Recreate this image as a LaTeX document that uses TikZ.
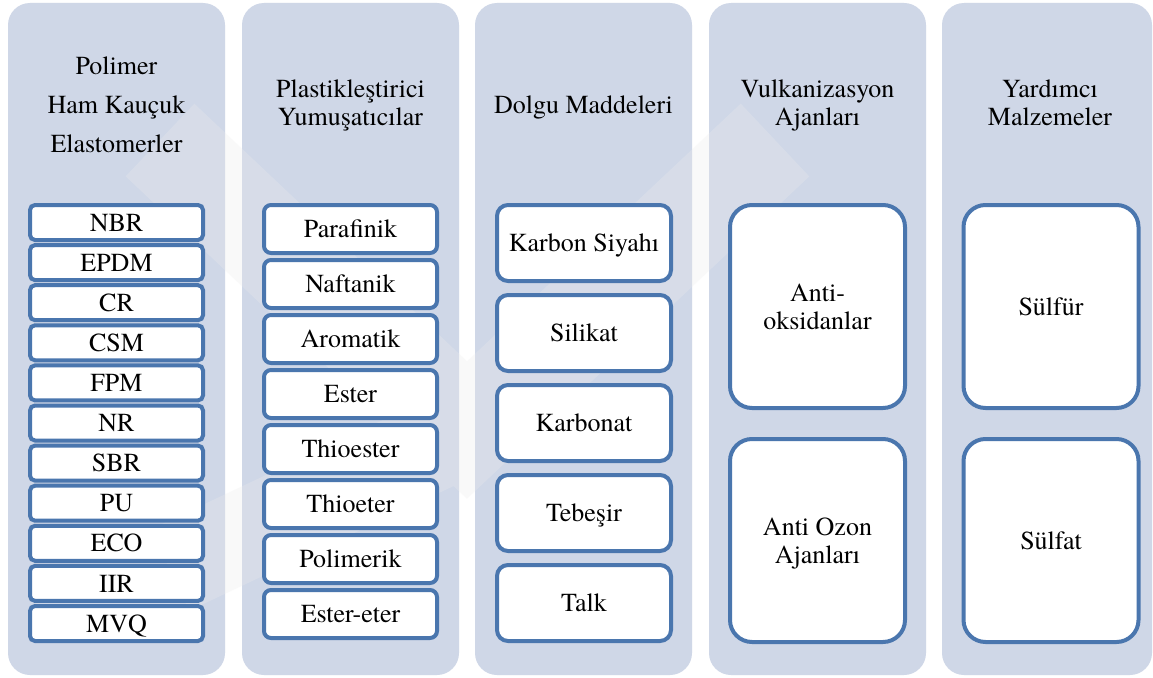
\documentclass[tikz,border=0pt]{standalone}
\usepackage{fontspec}
\setmainfont{texgyretermes}[Extension=.otf, UprightFont=*-regular]
\definecolor{panelfill}{RGB}{207,215,231}
\definecolor{boxline}{RGB}{74,118,174}
\definecolor{markgray}{RGB}{236,236,236}

\begin{document}
\begin{tikzpicture}[x=1pt,y=-1pt,
  panel/.style={fill=panelfill, draw=none, rounded corners=22pt},
  item/.style={draw=boxline, line width=4pt, fill=white, inner sep=0pt,
    text height=17.2pt, text depth=0pt, align=center,
    font=\fontsize{26}{28}\selectfont},
  twoline/.style={text height=45.2pt},
  smallitem/.style={item, minimum width=173pt, minimum height=35pt, rounded corners=5pt},
  miditem/.style={item, minimum width=173pt, minimum height=48pt, rounded corners=7pt},
  largeitem/.style={item, minimum width=174pt, minimum height=76pt, rounded corners=11pt},
  tallitem/.style={item, minimum width=175pt, minimum height=203pt, rounded corners=22pt},
  heading/.style={anchor=base, align=center, inner sep=0pt,
    font=\fontsize{26}{28}\selectfont},
]
\useasboundingbox (0,0) rectangle (1153,677);
\fill[white] (0,0) rectangle (1153,677);

% column panels
\fill[panel] (8,3) rectangle (225,675);
\fill[panel] (242,3) rectangle (459,675);
\fill[panel] (475,3) rectangle (692,675);
\fill[panel] (709,3) rectangle (926,675);
\fill[panel] (942,3) rectangle (1152,675);

% faint background mark
\begin{scope}[transparency group, opacity=.28]
  \draw[markgray, line width=100pt, line join=miter]
    (160,140) -- (467,430) -- (775,140);
  \draw[markgray, line width=90pt]
    (170,570) -- (467,430);
\end{scope}

% column headings (anchored at the baseline of the last line)
\node[heading, font=\fontsize{26}{39}\selectfont] (h1) at (116.5,152)
  {Polimer\\Ham Kauçuk\\Elastomerler};
\node[heading] (h2) at (350.5,125) {Plastikleştirici\\Yumuşatıcılar};
\node[heading] (h3) at (583.5,113) {Dolgu Maddeleri};
\node[heading] (h4) at (817.5,125) {Vulkanizasyon\\Ajanları};
\node[heading] (h5) at (1050,125) {Yardımcı\\Malzemeler};

% column 1: polymers
\foreach \t [count=\i from 0] in {NBR,EPDM,CR,CSM,FPM,NR,SBR,PU,ECO,IIR,MVQ}
  \node[smallitem] (p\i) at (116.5,{222.5+40.1*\i}) {\t};

% column 2: plasticisers
\foreach \t [count=\i from 0] in {Parafinik,Naftanik,Aromatik,Ester,Thioester,Thioeter,Polimerik,Ester-eter}
  \node[miditem] (s\i) at (350.5,{229+55*\i}) {\t};

% column 3: fillers
\foreach \t [count=\i from 0] in {Karbon Siyahı,Silikat,Karbonat,Tebeşir,Talk}
  \node[largeitem] (f\i) at (584,{243+90*\i}) {\t};

% column 4: vulcanisation agents
\node[tallitem, twoline] (v0) at (817.5,306.5) {Anti-\\oksidanlar};
\node[tallitem, twoline] (v1) at (817.5,540.5) {Anti Ozon\\Ajanları};

% column 5: auxiliary materials
\node[tallitem] (y0) at (1051,306.5) {Sülfür};
\node[tallitem] (y1) at (1051,540.5) {Sülfat};
\end{tikzpicture}
\end{document}
